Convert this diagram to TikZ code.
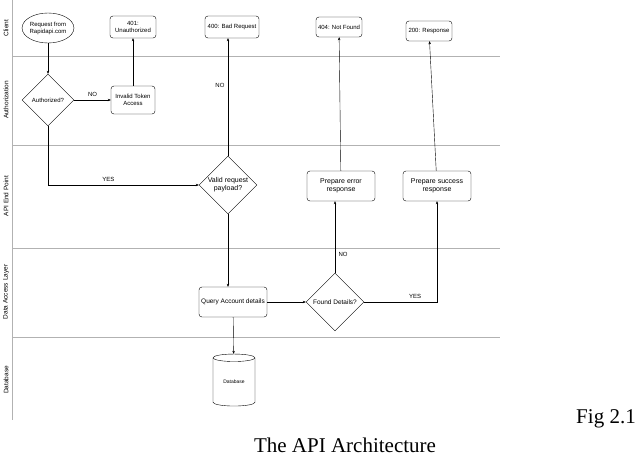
\documentclass[tikz,border=0pt]{standalone}
\usepackage{fontspec}
\setmainfont{Liberation Sans}
\newfontfamily\capfont{Liberation Serif}
\usetikzlibrary{shapes.geometric,arrows.meta}
\begin{document}
\begin{tikzpicture}[x=1pt,y=-1pt,
  every node/.style={font=\fontsize{6}{7}\selectfont,align=center},
  box/.style={draw,rounded corners=3pt,minimum width=#1,minimum height=22,inner sep=1pt},
  dia/.style={draw,diamond,aspect=1,inner sep=0pt,minimum width=#1,minimum height=#1},
  arr/.style={-{Stealth[length=3pt,width=2.5pt]},line width=0.4pt},
  lane/.style={draw=gray!60,line width=0.5pt},
  lbl/.style={rotate=90,font=\fontsize{6.5}{7.5}\selectfont}]
\useasboundingbox (0,0) rectangle (640,458);
\draw[lane] (12,0) -- (12,420);
\foreach \y in {56,145,248,337} \draw[lane] (12,\y) -- (500,\y);
\node[lbl] (l1) at (6,28) {Client};
\node[lbl] (l2) at (6,100) {Authorization};
\node[lbl] (l3) at (6,196) {API End Point};
\node[lbl] (l4) at (6,292) {Data Access Layer};
\node[lbl] (l5) at (6,380) {Database};

\node[draw,ellipse,minimum width=46,minimum height=30,inner sep=0pt] (req) at (48,28) {Request from\\Rapidapi.com};
\node[box=46] (u401) at (133,27) {401:\\Unauthorized};
\node[box=54] (b400) at (232,27) {400: Bad Request};
\node[box=46,minimum height=20] (n404) at (339,27) {404: Not Found};
\node[box=46,minimum height=20] (r200) at (429,31) {200: Response};
\node[dia=52] (auth) at (48,100) {Authorized?};
\node[box=44,minimum height=28] (inv) at (133,100) {Invalid Token\\Access};
\node[dia=58,font=\fontsize{7}{8}\selectfont] (valid) at (228,185) {Valid request\\payload?};
\node[box=68,minimum height=30,font=\fontsize{7}{8}\selectfont] (perr) at (341,186) {Prepare error\\response};
\node[box=68,minimum height=30,font=\fontsize{7}{8}\selectfont] (psuc) at (437,186) {Prepare success\\response};
\node[box=68,minimum height=30,font=\fontsize{6.5}{7.5}\selectfont] (query) at (233,302) {Query Account details};
\node[dia=58,font=\fontsize{6.5}{7.5}\selectfont] (found) at (335,302) {Found Details?};
\node[draw,cylinder,shape border rotate=90,aspect=0.35,minimum width=42,minimum height=52,inner sep=0pt,font=\fontsize{5}{6}\selectfont] (db) at (234,382) {Database};

\draw[arr] (req) -- (auth);
\draw[arr] (auth) -- node[above,pos=0.5] {NO} (inv);
\draw[arr] (inv) -- (u401);
\draw[arr] (auth.south) |- node[above,pos=0.7] {YES} (valid.west);
\draw[arr] (valid.north) -- node[left,pos=0.6] {NO} (valid.north |- b400.south);
\draw[arr] (valid.south) -- (valid.south |- query.north);
\draw[arr] (query) -- (found);
\draw[arr] (found.north) -- node[right,pos=0.25] {NO} (found.north |- perr.south);
\draw[arr] (found.east) -| node[above,pos=0.35] {YES} (psuc.south);
\draw[arr] (perr) -- (n404);
\draw[arr] (psuc) -- (r200);
\draw[arr] (query) -- (db);

\node[font=\capfont\fontsize{21}{24}\selectfont] (fig) at (606,419) {Fig 2.1};
\node[font=\capfont\fontsize{21}{24}\selectfont] (cap) at (345,445) {The API Architecture};
\end{tikzpicture}
\end{document}
